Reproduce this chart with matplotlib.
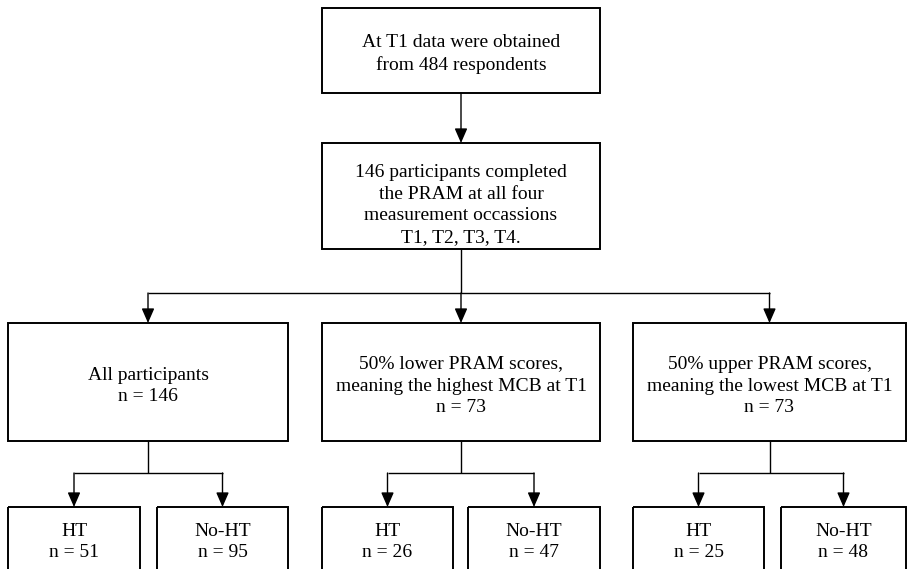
import matplotlib.pyplot as plt
from matplotlib.patches import Rectangle

# Textos del diagrama
top_text = "At T1 data were obtained\nfrom 484 respondents"
second_text = "146 participants completed\nthe PRAM at all four\nmeasurement occassions\nT1, T2, T3, T4."
group_labels = ["All participants",
                "50% lower PRAM scores,\nmeaning the highest MCB at T1",
                "50% upper PRAM scores,\nmeaning the lowest MCB at T1"]
group_n = [146, 73, 73]
sub_labels = ["HT", "No-HT"]
sub_n = [[51, 95], [26, 47], [25, 48]]

plt.rcParams['font.family'] = ['Liberation Serif', 'DejaVu Serif']
FS = 14

fig = plt.figure(figsize=(9.08, 5.69), dpi=100)
ax = fig.add_axes([0, 0, 1, 1])
ax.set_xlim(0, 908)
ax.set_ylim(569, 0)
ax.axis("off")


def caja(x0, y0, x1, y1, texto, ty=None):
    ax.add_patch(Rectangle((x0, y0), x1 - x0, y1 - y0, fill=False,
                           edgecolor="black", linewidth=1.4, zorder=2))
    if ty is None:
        ty = (y0 + y1) / 2
    ax.text((x0 + x1) / 2, ty, texto, ha="center", va="center",
            fontsize=FS, linespacing=1.38, zorder=3)


def linea(xs, ys):
    ax.plot(xs, ys, color="black", linewidth=1.0, solid_capstyle="butt", zorder=1)


def flecha(x, y0, y1):
    ax.annotate("", xy=(x, y1), xytext=(x, y0),
                arrowprops=dict(arrowstyle="-|>,head_length=0.8,head_width=0.35",
                                color="black", lw=1.0, mutation_scale=11,
                                shrinkA=0, shrinkB=0))


# Caja superior y segunda caja
caja(322, 8, 600, 93, top_text, ty=54)
flecha(461, 93, 143)
caja(322, 143, 600, 249, second_text, ty=205)

# Ramas hacia los tres grupos
grupos_x = [(8, 288), (322, 600), (633, 906)]
centros = [(a + b) / 2 for a, b in grupos_x]
linea([461, 461], [249, 293])
linea([centros[0], centros[2]], [293, 293])
for cx in centros:
    flecha(cx, 293, 323)

sub_x = [[(8, 140), (157, 288)],
         [(322, 453), (468, 600)],
         [(633, 764), (781, 906)]]

for i, (x0, x1) in enumerate(grupos_x):
    caja(x0, 323, x1, 441, f"{group_labels[i]}\nn = {group_n[i]}", ty=386)
    cx = centros[i]
    linea([cx, cx], [441, 473])
    sx = [(a + b) / 2 for a, b in sub_x[i]]
    linea([sx[0], sx[1]], [473, 473])
    for j, (a, b) in enumerate(sub_x[i]):
        flecha(sx[j], 473, 507)
        caja(a, 507, b, 600, f"{sub_labels[j]}\nn = {sub_n[i][j]}", ty=542)

fig.savefig("out.png", dpi=100)
